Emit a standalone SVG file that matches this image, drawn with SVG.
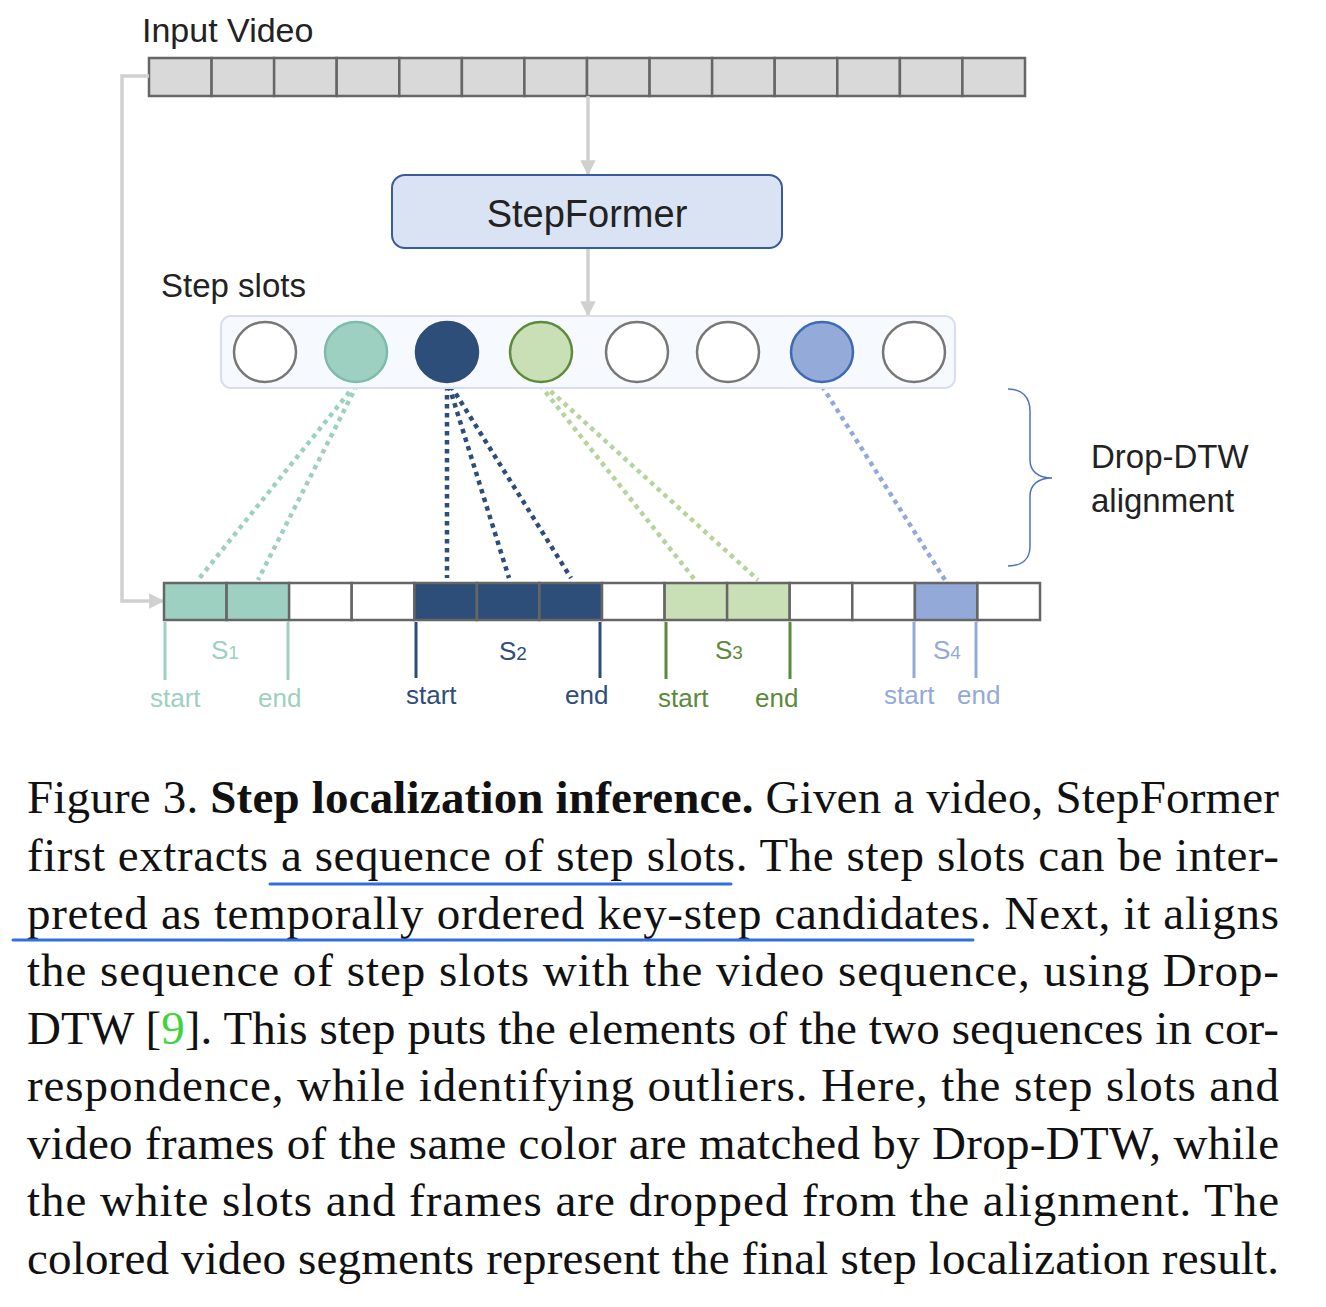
<svg xmlns="http://www.w3.org/2000/svg" width="1326" height="1307" viewBox="0 0 1326 1307">
<defs>
<style>
.lbl{font-family:"Liberation Sans",Arial,sans-serif;fill:#222}
.cell{stroke:#666;stroke-width:2.5}
.conn{fill:none;stroke:#d0d0d0;stroke-width:3.5}
.dot{fill:none;stroke-width:4.5;stroke-dasharray:4.5 4.5}
.cap{font-family:"Liberation Serif","Times New Roman",serif;font-size:47px;fill:#111}
.seg{font-family:"Liberation Sans",Arial,sans-serif;font-size:26px}
.sub{font-size:19px}
</style>
<marker id="ah" viewBox="0 0 10 10" refX="9" refY="5" markerWidth="4.4" markerHeight="4.4" orient="auto" markerUnits="strokeWidth">
<path d="M0,0 L10,5 L0,10 z" fill="#d0d0d0"/>
</marker>
</defs>
<rect width="1326" height="1307" fill="#fff"/>

<g id="input-video">
<text class="lbl" x="142" y="42" font-size="34">Input Video</text>
<g fill="#d9d9d9" class="cell">
<rect x="149" y="58" width="62.6" height="38"/><rect x="211.6" y="58" width="62.6" height="38"/><rect x="274.1" y="58" width="62.6" height="38"/><rect x="336.7" y="58" width="62.6" height="38"/><rect x="399.3" y="58" width="62.6" height="38"/><rect x="461.9" y="58" width="62.6" height="38"/><rect x="524.4" y="58" width="62.6" height="38"/><rect x="587" y="58" width="62.6" height="38"/><rect x="649.6" y="58" width="62.6" height="38"/><rect x="712.1" y="58" width="62.6" height="38"/><rect x="774.7" y="58" width="62.6" height="38"/><rect x="837.3" y="58" width="62.6" height="38"/><rect x="899.9" y="58" width="62.6" height="38"/><rect x="962.4" y="58" width="62.6" height="38"/>
</g>
</g>

<g id="connectors">
<line class="conn" x1="588" y1="96" x2="588" y2="174" marker-end="url(#ah)"/>
<line class="conn" x1="588" y1="249" x2="588" y2="315" marker-end="url(#ah)"/>
<polyline class="conn" points="149,76 122,76 122,601 163,601" marker-end="url(#ah)"/>
<g class="dot" stroke="#9dd0c0">
<line x1="355" y1="385" x2="198" y2="580"/>
<line x1="357" y1="385" x2="258" y2="580"/>
</g>
<g class="dot" stroke="#2d4e79">
<line x1="447" y1="386" x2="447" y2="578"/>
<line x1="449" y1="386" x2="509" y2="578"/>
<line x1="451" y1="386" x2="571" y2="578"/>
</g>
<g class="dot" stroke="#b6d39c">
<line x1="540" y1="385" x2="695" y2="580"/>
<line x1="544" y1="385" x2="758" y2="580"/>
</g>
<g class="dot" stroke="#93a9d8">
<line x1="822" y1="386" x2="945" y2="580"/>
</g>
</g>

<g id="stepformer">
<rect x="392" y="175" width="390" height="73" rx="13" fill="#dae3f3" stroke="#3a5a9a" stroke-width="2"/>
<text class="lbl" x="587" y="227" font-size="38" text-anchor="middle" fill="#333">StepFormer</text>
</g>

<g id="step-slots">
<text class="lbl" x="161" y="297" font-size="33">Step slots</text>
<rect x="221" y="316" width="734" height="72" rx="10" fill="#f6f9fd" stroke="#d8def0" stroke-width="2"/>
<g stroke-width="2.5">
<ellipse cx="265" cy="352" rx="31" ry="30" fill="#fff" stroke="#777"/>
<ellipse cx="356" cy="352" rx="31" ry="30" fill="#9dd0c0" stroke="#7dbcad"/>
<ellipse cx="447" cy="352" rx="31" ry="30" fill="#2d4e79" stroke="#2d4e79"/>
<ellipse cx="541" cy="352" rx="31" ry="30" fill="#c9dfb6" stroke="#5e8b3b"/>
<ellipse cx="637" cy="352" rx="31" ry="30" fill="#fff" stroke="#777"/>
<ellipse cx="728" cy="352" rx="31" ry="30" fill="#fff" stroke="#777"/>
<ellipse cx="822" cy="352" rx="31" ry="30" fill="#94aad8" stroke="#3c6ab4"/>
<ellipse cx="914" cy="352" rx="31" ry="30" fill="#fff" stroke="#777"/>
</g>
</g>

<g id="drop-dtw">
<path d="M1008,389 C1022,389 1030,397 1030,411 L1030,460 C1030,471 1038,478 1052,478 C1038,478 1030,485 1030,496 L1030,546 C1030,559 1022,566 1008,566" fill="none" stroke="#4a72c0" stroke-width="1.5"/>
<text class="lbl" x="1091" y="468" font-size="33">Drop-DTW</text>
<text class="lbl" x="1091" y="512" font-size="33">alignment</text>
</g>

<g id="output-video">
<g class="cell">
<rect x="164" y="583" width="62.6" height="37" fill="#9dd0c0"/><rect x="226.6" y="583" width="62.6" height="37" fill="#9dd0c0"/><rect x="289.1" y="583" width="62.6" height="37" fill="#fff"/><rect x="351.7" y="583" width="62.6" height="37" fill="#fff"/><rect x="414.3" y="583" width="62.6" height="37" fill="#2d4e79"/><rect x="476.9" y="583" width="62.6" height="37" fill="#2d4e79"/><rect x="539.4" y="583" width="62.6" height="37" fill="#2d4e79"/><rect x="602" y="583" width="62.6" height="37" fill="#fff"/><rect x="664.6" y="583" width="62.6" height="37" fill="#c9dfb6"/><rect x="727.1" y="583" width="62.6" height="37" fill="#c9dfb6"/><rect x="789.7" y="583" width="62.6" height="37" fill="#fff"/><rect x="852.3" y="583" width="62.6" height="37" fill="#fff"/><rect x="914.9" y="583" width="62.6" height="37" fill="#93a9d8"/><rect x="977.4" y="583" width="62.6" height="37" fill="#fff"/>
</g>
</g>

<g id="segment-s1" fill="#9dd0c0" stroke-width="3">
<line x1="165" y1="622" x2="165" y2="680" stroke="#9dd0c0"/>
<line x1="288" y1="622" x2="288" y2="680" stroke="#9dd0c0"/>
<text class="seg" x="211" y="659" font-size="28">S<tspan class="sub">1</tspan></text>
<text class="seg" x="150" y="707">start</text>
<text class="seg" x="258" y="707">end</text>
</g>
<g id="segment-s2" fill="#2d4e79" stroke-width="3">
<line x1="416" y1="622" x2="416" y2="678" stroke="#2d4e79"/>
<line x1="600" y1="622" x2="600" y2="678" stroke="#2d4e79"/>
<text class="seg" x="499" y="660" font-size="28">S<tspan class="sub">2</tspan></text>
<text class="seg" x="406" y="704">start</text>
<text class="seg" x="565" y="704">end</text>
</g>
<g id="segment-s3" fill="#5b8a38" stroke-width="3">
<line x1="666" y1="622" x2="666" y2="679" stroke="#5b8a38"/>
<line x1="790" y1="622" x2="790" y2="679" stroke="#5b8a38"/>
<text class="seg" x="715" y="659" font-size="28">S<tspan class="sub">3</tspan></text>
<text class="seg" x="658" y="707">start</text>
<text class="seg" x="755" y="707">end</text>
</g>
<g id="segment-s4" fill="#93a9d8" stroke-width="3">
<line x1="914" y1="622" x2="914" y2="678" stroke="#93a9d8"/>
<line x1="976" y1="622" x2="976" y2="678" stroke="#93a9d8"/>
<text class="seg" x="933" y="659" font-size="28">S<tspan class="sub">4</tspan></text>
<text class="seg" x="884" y="704">start</text>
<text class="seg" x="957" y="704">end</text>
</g>

<g id="caption">
<text class="cap" x="27" y="813" textLength="1252" lengthAdjust="spacing">Figure 3. <tspan font-weight="bold">Step localization inference.</tspan> Given a video, StepFormer</text>
<text class="cap" x="27" y="871" textLength="1252" lengthAdjust="spacing">first extracts a sequence of step slots. The step slots can be inter-</text>
<text class="cap" x="27" y="928.5" textLength="1252" lengthAdjust="spacing">preted as temporally ordered key-step candidates. Next, it aligns</text>
<text class="cap" x="27" y="986" textLength="1252" lengthAdjust="spacing">the sequence of step slots with the video sequence, using Drop-</text>
<text class="cap" x="27" y="1043.5" textLength="1252" lengthAdjust="spacing">DTW [<tspan fill="#3fd43f">9</tspan>]. This step puts the elements of the two sequences in cor-</text>
<text class="cap" x="27" y="1101" textLength="1252" lengthAdjust="spacing">respondence, while identifying outliers. Here, the step slots and</text>
<text class="cap" x="27" y="1158.5" textLength="1252" lengthAdjust="spacing">video frames of the same color are matched by Drop-DTW, while</text>
<text class="cap" x="27" y="1216" textLength="1252" lengthAdjust="spacing">the white slots and frames are dropped from the alignment. The</text>
<text class="cap" x="27" y="1273.5" textLength="1252" lengthAdjust="spacing">colored video segments represent the final step localization result.</text>
<line x1="270" y1="884" x2="731" y2="884" stroke="#2f6fe0" stroke-width="3" stroke-linecap="round"/>
<line x1="13" y1="940" x2="973" y2="940" stroke="#2f6fe0" stroke-width="3" stroke-linecap="round"/>
</g>
</svg>
